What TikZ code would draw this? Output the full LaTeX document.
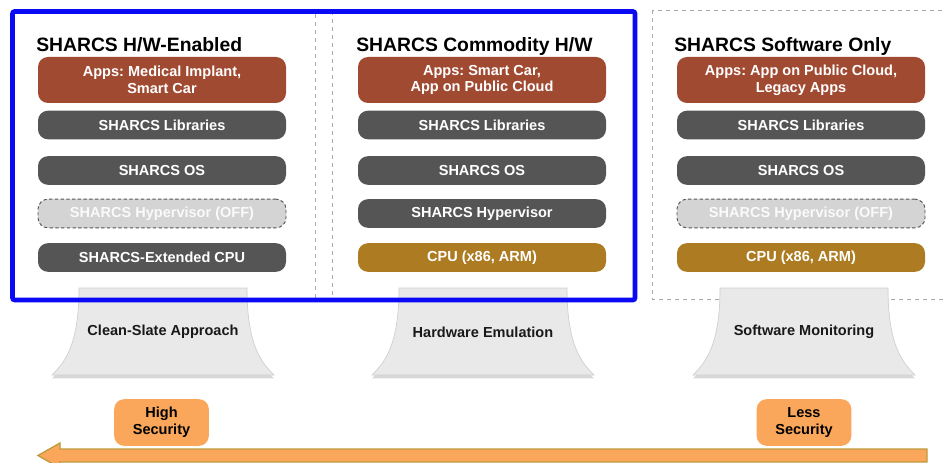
\documentclass[tikz,border=0pt]{standalone}
\usepackage{fontspec}
\setmainfont{Liberation Sans}
\frenchspacing
\usetikzlibrary{shadows}
\definecolor{appc}{HTML}{A14A32}
\definecolor{darkc}{HTML}{555555}
\definecolor{offc}{HTML}{D4D4D4}
\definecolor{cpuc}{HTML}{AD7B22}
\definecolor{orangec}{HTML}{FBA75B}
\definecolor{arrowedge}{HTML}{C09A3C}
\definecolor{towerc}{HTML}{E9E9E9}
\definecolor{towerline}{HTML}{CFCFCF}
\definecolor{bluec}{HTML}{0A0AF5}
\definecolor{dashc}{HTML}{A8A8A8}
\tikzset{
  layer/.style={rounded corners=7.5pt, minimum width=186pt, minimum height=21.5pt,
    inner sep=0pt, text=white, font=\bfseries\fontsize{10.9}{12.5}\selectfont, align=center},
  appbox/.style={layer, fill=appc, minimum height=34.5pt},
  darkbox/.style={layer, fill=darkc},
  offbox/.style={layer, fill=offc, draw=darkc, dash pattern=on 2.5pt off 1.8pt, line width=0.7pt, text=white!96!gray},
  cpubox/.style={layer, fill=cpuc},
  title/.style={anchor=base west, inner sep=0pt, font=\bfseries\fontsize{14.5}{17}\selectfont},
  towertext/.style={inner sep=0pt, font=\bfseries\fontsize{10.9}{12.5}\selectfont, text=black!90},
  secbox/.style={rounded corners=7.5pt, fill=orangec, minimum width=71pt, minimum height=35pt,
    inner sep=0pt, align=center, font=\bfseries\fontsize{10.9}{12.5}\selectfont},
  dashline/.style={draw=dashc, line width=0.6pt, dash pattern=on 3pt off 3pt},
}
\begin{document}
\begin{tikzpicture}[x=0.75pt,y=-0.75pt]
\useasboundingbox (0,0) rectangle (944,463);
\clip (0,0) rectangle (944,463);
\fill[white] (0,0) rectangle (944,463);

% dashed column frames
\draw[dashline] (12,11) rectangle (315,299);
\draw[dashline] (332,11) rectangle (635,299);
\draw[dashline] (652,10) rectangle (960,299);

% towers
\foreach \cx/\nm/\txt in {163/t1/Clean-Slate Approach, 483/t2/Hardware Emulation, 804/t3/Software Monitoring}{
  \draw[towerline, fill=towerc, line width=0.5pt,
        drop shadow={shadow xshift=0pt, shadow yshift=-2.5pt, opacity=0.3, fill=gray}]
    ({\cx-84},288) -- ({\cx+84},288)
    .. controls ({\cx+84},345) and ({\cx+98},362) .. ({\cx+111},375)
    -- ({\cx-111},375)
    .. controls ({\cx-98},362) and ({\cx-84},345) .. ({\cx-84},288) -- cycle;
  \node[towertext] (\nm) at (\cx,332) {\txt};
}

% blue frame
\draw[bluec, line width=3.4pt, rounded corners=1.5pt] (12.5,11.5) rectangle (635,300);

% column 1
\node[title] (h1) at (36,52) {SHARCS H/W-Enabled};
\node[appbox]  (a1) at (162,80) {Apps: Medical Implant,\\Smart Car};
\node[darkbox] (l1) at (162,125) {SHARCS Libraries};
\node[darkbox] (o1) at (162,170.5) {SHARCS OS};
\node[offbox]  (v1) at (162,213.5) {SHARCS Hypervisor (OFF)};
\node[darkbox] (c1) at (162,257.5) {SHARCS-Extended CPU};

% column 2
\node[title] (h2) at (356,52) {SHARCS Commodity H/W};
\node[appbox]  (a2) at (482,80) {Apps: Smart Car,\\App on Public Cloud};
\node[darkbox] (l2) at (482,125) {SHARCS Libraries};
\node[darkbox] (o2) at (482,170.5) {SHARCS OS};
\node[darkbox] (v2) at (482,213.5) {SHARCS Hypervisor};
\node[cpubox]  (c2) at (482,257.5) {CPU (x86, ARM)};

% column 3
\node[title] (h3) at (674,52) {SHARCS Software Only};
\node[appbox]  (a3) at (801,80) {Apps: App on Public Cloud,\\Legacy Apps};
\node[darkbox] (l3) at (801,125) {SHARCS Libraries};
\node[darkbox] (o3) at (801,170.5) {SHARCS OS};
\node[offbox]  (v3) at (801,213.5) {SHARCS Hypervisor (OFF)};
\node[cpubox]  (c3) at (801,257.5) {CPU (x86, ARM)};

% security labels
\node[secbox] (hi) at (161.5,422.5) {High\\Security};
\node[secbox] (lo) at (804,422.5) {Less\\Security};

% big arrow
\draw[fill=orangec, draw=arrowedge, line width=1pt, line join=miter]
  (927,449) -- (60,449) -- (60,443) -- (38,455.5) -- (60,468) -- (60,462) -- (927,462) -- cycle;
\end{tikzpicture}
\end{document}
